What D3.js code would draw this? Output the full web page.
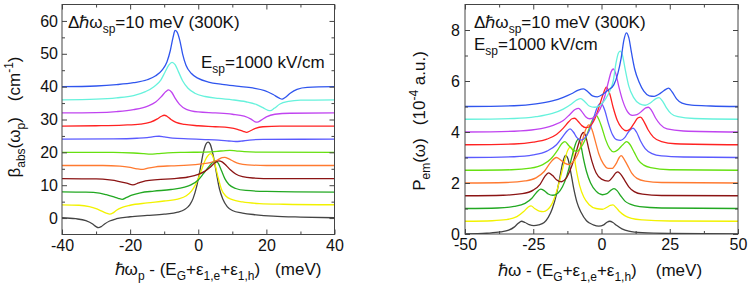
<!DOCTYPE html>
<html><head><meta charset="utf-8">
<script src="https://cdn.jsdelivr.net/npm/d3@7"></script>
<style>
body{margin:0;background:#fff;}
text{font-family:"Liberation Sans", Arial, Helvetica, sans-serif; fill:#111;}
</style></head><body>
<svg id="c" width="748" height="288"></svg>
<script>
// ---------- Left panel: absorption spectra (offset curves) ----------
const absC0 = [[-40,0.1],[-36,-0.2],[-33,-0.8],[-31,-1.8],[-30,-2.6],[-29.3,-2.9],[-28.5,-2.6],[-27.5,-1.8],[-26,-0.9],[-24,-0.2],[-20,0.4],[-15,0.8],[-10,1.2],[-6,1.8],[-4,2.6],[-2.5,4.0],[-1.5,6.0],[-0.5,9.5],[0.5,14.5],[1.5,20.0],[2.3,22.6],[2.9,23.1],[3.5,22.5],[4.3,19.5],[5.2,14.5],[6.2,9.0],[7.2,5.8],[8.5,3.5],[10,2.3],[13,1.5],[17,1.0],[22,0.6],[30,0.3],[40,0.1]];
const absC4 = [[-40,4.0],[-35,3.9],[-32,3.5],[-30,2.9],[-28.5,2.2],[-27,1.5],[-26,1.2],[-25,1.6],[-24,2.4],[-22.5,3.2],[-20,3.9],[-15,4.6],[-10,5.2],[-6,5.8],[-3.5,6.8],[-2,8.2],[-1,9.8],[0,12.0],[1,14.8],[2,17.5],[3,19.2],[3.6,19.6],[4.2,19.0],[5,16.0],[5.8,12.5],[6.8,8.8],[8,6.8],[10,5.6],[13,4.9],[18,4.4],[25,4.2],[40,4.05]];
const absC8 = [[-40,8.0],[-33,7.9],[-29,7.6],[-27,7.1],[-25,6.5],[-23.5,6.0],[-22.3,5.7],[-21,6.3],[-19.5,7.0],[-17,7.7],[-13,8.2],[-8,8.7],[-4,9.4],[-2,10.2],[0,11.6],[1.5,13.5],[3,15.5],[4.2,16.9],[5,17.3],[5.8,16.8],[6.8,14.5],[7.8,12.0],[9,10.2],[11,9.0],[14,8.4],[20,8.1],[40,7.9]];
const absC12 = [[-40,12.0],[-30,11.9],[-26,11.6],[-23.5,11.2],[-21,10.6],[-19.2,10.1],[-17.5,10.7],[-15.5,11.3],[-12,11.7],[-7,12.0],[-3,12.5],[0,13.3],[2,14.3],[3.5,15.5],[5,16.9],[6,17.4],[7,17.1],[8.2,16.0],[9.5,14.6],[11,13.4],[13,12.6],[16,12.2],[22,12.0],[40,12.0]];
const absC16 = [[-40,16.0],[-28,16.0],[-23,15.8],[-20,15.4],[-18,15.0],[-16.2,14.8],[-14.8,15.2],[-12.5,15.6],[-8,15.9],[-3,16.1],[1,16.5],[3.5,16.9],[5.5,17.6],[7,18.4],[7.8,18.5],[9,18.0],[10.5,17.2],[12,16.6],[14.5,16.2],[20,16.0],[40,16.0]];
const absC20 = [[-40,20.0],[-25,20.0],[-19,19.8],[-16,19.6],[-14,19.45],[-12,19.6],[-9,19.85],[-4,20.0],[2,20.1],[5.5,20.3],[8,20.55],[9.3,20.6],[11,20.45],[13.5,20.2],[18,20.05],[40,20.0]];
const absC24 = [[-40,24.0],[-25,24.1],[-18,24.3],[-15,24.5],[-12.5,24.85],[-11.5,24.9],[-10,24.7],[-7.5,24.35],[-3,24.1],[2,23.9],[6,23.7],[9,23.45],[11,23.3],[12.5,23.4],[15,23.75],[19,23.95],[40,24.0]];
const absC28 = [[-40,28.0],[-30,28.1],[-22,28.3],[-17,28.6],[-14,29.2],[-12,30.2],[-10.8,31.0],[-10,31.3],[-9.2,31.0],[-8,30.0],[-6.5,29.1],[-4,28.5],[0,28.1],[5,27.8],[9,27.5],[11.5,27.0],[13.2,26.4],[14.2,26.1],[15.2,26.5],[16.8,27.3],[19,27.8],[24,28.0],[40,28.0]];
const absC32 = [[-40,32.0],[-30,32.1],[-24,32.4],[-19,33.0],[-15,34.0],[-12.5,35.3],[-10.8,37.0],[-9.5,38.5],[-8.7,39.0],[-7.8,38.3],[-6.8,36.5],[-5.5,34.6],[-3.5,33.1],[0,32.3],[5,32.0],[10,31.6],[13.5,31.0],[15.5,30.1],[16.7,29.3],[17.3,29.2],[18.5,29.8],[20,30.8],[22.5,31.6],[27,31.9],[40,32.0]];
const absC36 = [[-40,36.0],[-30,36.2],[-24,36.6],[-19,37.3],[-15.5,38.5],[-13,40.0],[-11,42.0],[-9.8,44.3],[-8.6,46.6],[-7.7,47.4],[-6.8,46.7],[-5.8,44.5],[-4.6,41.8],[-3,39.5],[-1,38.0],[2,37.0],[6,36.4],[10,36.0],[14,35.4],[17,34.6],[19,33.6],[20.5,32.8],[21.2,32.7],[22.3,33.4],[24,34.7],[26.5,35.5],[30,35.9],[40,36.0]];
const absC40 = [[-40,40.0],[-30,40.2],[-24,40.6],[-19,41.2],[-15,42.1],[-12.5,43.3],[-10.5,45.2],[-9.2,47.5],[-8.2,51.0],[-7.4,55.0],[-6.8,57.1],[-6.2,56.6],[-5.4,54.0],[-4.6,50.0],[-3.6,46.5],[-2,44.0],[0,42.5],[3,41.4],[7,40.7],[12,40.1],[16,39.6],[19.5,38.8],[22,37.6],[23.8,36.5],[24.6,36.2],[25.5,36.7],[27,38.0],[29,39.2],[32,39.8],[40,40.0]];

// ---------- Right panel: emission spectra (offset curves) ----------
const emC0 = [[-50,0.0],[-42,0.03],[-37,0.08],[-34,0.15],[-32,0.27],[-30.5,0.42],[-29.3,0.5],[-28,0.45],[-26.5,0.37],[-24.8,0.33],[-23,0.36],[-21,0.45],[-19.5,0.65],[-18,1.0],[-16.5,1.55],[-15.3,2.2],[-14.2,2.8],[-13.2,3.08],[-12.3,2.95],[-11.3,2.45],[-10.2,1.8],[-9,1.25],[-7.5,0.85],[-5.5,0.52],[-3,0.36],[-1,0.31],[0.8,0.36],[2,0.46],[3,0.5],[4.2,0.45],[5.5,0.34],[7.5,0.2],[10,0.11],[15,0.05],[25,0.02],[50,0.0]];
const emC05 = [[-50,0.5],[-40,0.52],[-35,0.56],[-31,0.68],[-28.5,0.88],[-26.8,1.06],[-25.8,1.1],[-24.5,1.0],[-22.8,0.9],[-21.3,0.88],[-19.8,0.95],[-18.3,1.15],[-16.8,1.55],[-15.3,2.1],[-13.8,2.75],[-12.5,3.25],[-11.3,3.42],[-10.3,3.2],[-9.2,2.5],[-8,1.9],[-6.5,1.45],[-4.5,1.15],[-2,1.0],[0.3,0.97],[2,1.05],[3.2,1.12],[4.2,1.14],[5.3,1.04],[6.8,0.86],[8.5,0.72],[11,0.61],[15,0.55],[25,0.51],[50,0.5]];
const emC10 = [[-50,1.0],[-38,1.02],[-32,1.08],[-28,1.2],[-25.5,1.4],[-23.8,1.63],[-22.3,1.76],[-21,1.7],[-19.5,1.57],[-17.8,1.52],[-16,1.6],[-14.3,1.85],[-12.8,2.25],[-11.5,2.75],[-10.3,3.25],[-9.2,3.62],[-8.5,3.72],[-7.7,3.55],[-6.7,3.0],[-5.5,2.45],[-4,2.0],[-2,1.68],[0.3,1.54],[2,1.58],[3.5,1.72],[4.6,1.78],[5.7,1.7],[7,1.5],[8.5,1.3],[10.5,1.17],[14,1.07],[22,1.02],[50,1.0]];
const emC15 = [[-50,1.5],[-36,1.52],[-29,1.58],[-25,1.72],[-22.5,1.95],[-20.8,2.25],[-19.4,2.4],[-18,2.3],[-16.5,2.13],[-14.6,2.05],[-13,2.18],[-11.5,2.5],[-10,2.95],[-8.5,3.5],[-7.3,3.9],[-6.5,3.98],[-5.7,3.8],[-4.7,3.35],[-3.5,2.85],[-2,2.4],[0,2.15],[2.5,2.07],[4,2.22],[5.3,2.4],[6,2.44],[7,2.35],[8.5,2.1],[10,1.85],[12,1.66],[15,1.56],[22,1.51],[50,1.5]];
const emC20 = [[-50,2.0],[-35,2.02],[-28,2.08],[-24,2.2],[-21,2.45],[-18.7,2.8],[-16.5,3.0],[-15,2.9],[-13.5,2.78],[-11.8,2.72],[-10.3,2.85],[-8.8,3.1],[-7.3,3.55],[-5.8,4.1],[-4.6,4.28],[-3.5,4.1],[-2.3,3.65],[-1,3.15],[0.7,2.75],[2.5,2.57],[3.8,2.57],[5.3,2.75],[6.5,3.0],[7.2,3.07],[8.2,2.95],[9.5,2.7],[11,2.4],[13,2.18],[16,2.07],[22,2.02],[50,2.0]];
const emC25 = [[-50,2.5],[-33,2.52],[-26,2.58],[-21.5,2.72],[-18.5,2.95],[-16,3.3],[-14.5,3.55],[-13.4,3.62],[-12,3.47],[-10.5,3.3],[-9,3.24],[-7.5,3.4],[-6,3.7],[-4.5,4.15],[-3.2,4.5],[-2.1,4.67],[-1,4.5],[0.2,4.15],[1.5,3.7],[3,3.35],[4.5,3.22],[6,3.3],[7.8,3.5],[9.2,3.62],[10.5,3.5],[12,3.2],[13.5,2.9],[15.5,2.7],[18,2.6],[25,2.52],[50,2.5]];
const emC30 = [[-50,3.0],[-32,3.03],[-25,3.1],[-20,3.25],[-16.5,3.5],[-14,3.85],[-12.5,4.05],[-11.5,4.12],[-10.3,4.0],[-9,3.78],[-7.5,3.68],[-6,3.78],[-4.5,4.05],[-3,4.5],[-1.8,4.9],[-0.2,5.13],[1.2,4.85],[2.5,4.35],[4,3.9],[5.5,3.7],[7,3.67],[8.5,3.78],[10,4.02],[11.5,4.15],[12.8,4.0],[14.3,3.65],[16,3.35],[18.5,3.15],[22,3.06],[30,3.02],[50,3.0]];
const emC35 = [[-50,3.5],[-32,3.53],[-25,3.6],[-20,3.72],[-16.5,3.9],[-14,4.15],[-12,4.4],[-10.8,4.52],[-9.8,4.54],[-8.6,4.42],[-7.2,4.25],[-5.6,4.17],[-4,4.25],[-2.5,4.5],[-1,4.95],[0.5,5.45],[1.8,5.76],[3,5.5],[4.3,4.95],[5.8,4.45],[7.5,4.15],[9,4.05],[10.5,4.12],[12,4.35],[13.3,4.55],[14.3,4.58],[15.5,4.42],[17,4.1],[19,3.8],[22,3.62],[27,3.54],[50,3.5]];
const emC40 = [[-50,4.0],[-32,4.03],[-24,4.1],[-18,4.25],[-14,4.45],[-11.5,4.7],[-9.7,4.88],[-8.4,4.93],[-7.2,4.8],[-5.8,4.6],[-4.3,4.52],[-2.5,4.6],[-0.5,4.9],[1.2,5.4],[2.6,6.0],[3.5,6.35],[4.3,6.47],[5.2,6.3],[6.3,5.8],[7.7,5.25],[9.5,4.8],[11.3,4.65],[13,4.68],[14.8,4.82],[16.2,4.95],[17.2,4.97],[18.3,4.85],[19.8,4.55],[21.5,4.3],[24,4.12],[30,4.04],[50,4.0]];
const emC45 = [[-50,4.5],[-32,4.53],[-24,4.6],[-18,4.73],[-14,4.9],[-11,5.1],[-9,5.26],[-7.6,5.31],[-6.2,5.2],[-4.5,5.02],[-2.5,4.97],[-0.5,5.05],[1.5,5.3],[3,5.6],[4.3,6.0],[5.3,6.7],[6.2,7.1],[6.9,7.17],[7.7,7.0],[8.7,6.45],[10,5.8],[11.8,5.35],[14,5.1],[16,5.05],[18,5.15],[19.8,5.3],[21.1,5.35],[22.3,5.22],[23.8,4.95],[25.5,4.72],[28,4.6],[34,4.53],[50,4.5]];
const emC50 = [[-50,5.0],[-32,5.03],[-24,5.1],[-18,5.22],[-14,5.36],[-11,5.5],[-8.5,5.64],[-6.6,5.69],[-5,5.58],[-3.3,5.42],[-1.5,5.38],[0.5,5.48],[2.5,5.65],[4.5,5.85],[6,6.3],[7.2,6.9],[8.2,7.6],[9.1,7.89],[10,7.7],[11,7.1],[12.2,6.45],[13.8,5.95],[15.5,5.6],[17.5,5.42],[19.3,5.4],[21,5.48],[22.8,5.62],[24.6,5.72],[26,5.55],[27.5,5.3],[29.5,5.13],[33,5.05],[40,5.02],[50,5.0]];

const absSeries = [absC0, absC4, absC8, absC12, absC16, absC20, absC24, absC28, absC32, absC36, absC40];
const emSeries  = [emC0, emC05, emC10, emC15, emC20, emC25, emC30, emC35, emC40, emC45, emC50];
const palette = ["#444444","#f2f200","#22a822","#8b1414","#ff7a30","#66e010","#5a5aff","#ff2222","#c044f0","#66f2dc","#2f55ee"];

// tick values
const absXMajor = [-40,-20,0,20,40], absXMinor = [-30,-10,10,30];
const absYMajor = [0,10,20,30,40,50,60], absYMinor = [5,15,25,35,45,55];
const emXMajor = [-50,-25,0,25,50], emXMinor = [-37.5,-12.5,12.5,37.5];
const emYMajor = [0,2,4,6,8], emYMinor = [1,3,5,7];

const svg = d3.select("#c");

function rich(parent, x, y, segs, size, small, anchor, transform) {
  const t = parent.append("text").attr("x", x).attr("y", y)
    .attr("font-size", size).attr("text-anchor", anchor || "start");
  if (transform) t.attr("transform", transform);
  let shift = 0;
  segs.forEach(s => {
    const target = s.sub ? 0.3 * size : s.sup ? -0.42 * size : 0;
    const sp = t.append("tspan").text(s.t).attr("dy", target - shift);
    if (s.dx) sp.attr("dx", s.dx);
    if (s.sub || s.sup) sp.attr("font-size", small);
    shift = target;
  });
  return t;
}

function panel(cfg) {
  const g = svg.append("g");
  const x = d3.scaleLinear(cfg.xd, cfg.xr);
  const y = d3.scaleLinear(cfg.yd, cfg.yr);
  const line = d3.line().x(d => x(d[0])).y(d => y(d[1])).curve(d3.curveMonotoneX);
  const clipId = "clip" + cfg.id;
  svg.append("clipPath").attr("id", clipId).append("rect")
    .attr("x", cfg.xr[0]).attr("y", cfg.yr[1]).attr("width", cfg.xr[1]-cfg.xr[0]).attr("height", cfg.yr[0]-cfg.yr[1]);
  const lines = g.append("g").attr("clip-path", `url(#${clipId})`);
  cfg.series.forEach((s, i) => {
    lines.append("path").attr("d", line(s)).attr("fill", "none")
      .attr("stroke", palette[i]).attr("stroke-width", 1.3);
  });
  const fmt = d => String(d);
  const styleAx = a => { a.select(".domain").remove(); a.selectAll("line").attr("stroke", "#444"); a.selectAll("text").attr("font-size", 16).attr("fill", "#111").attr("font-family", "Liberation Sans, Arial, sans-serif"); };
  const by = cfg.yr[0], ty = cfg.yr[1], lx = cfg.xr[0], rx = cfg.xr[1];
  g.append("g").attr("transform", `translate(0,${by})`).call(d3.axisBottom(x).tickValues(cfg.xMaj).tickSize(-5).tickPadding(5).tickFormat(fmt)).call(styleAx);
  g.append("g").attr("transform", `translate(0,${by})`).call(d3.axisBottom(x).tickValues(cfg.xMin).tickSize(-3).tickFormat("")).call(styleAx);
  g.append("g").attr("transform", `translate(0,${ty})`).call(d3.axisTop(x).tickValues(cfg.xMaj).tickSize(-5).tickFormat("")).call(styleAx);
  g.append("g").attr("transform", `translate(0,${ty})`).call(d3.axisTop(x).tickValues(cfg.xMin).tickSize(-3).tickFormat("")).call(styleAx);
  g.append("g").attr("transform", `translate(${lx},0)`).call(d3.axisLeft(y).tickValues(cfg.yMaj).tickSize(-5).tickPadding(cfg.ypad).tickFormat(fmt)).call(styleAx);
  g.append("g").attr("transform", `translate(${lx},0)`).call(d3.axisLeft(y).tickValues(cfg.yMin).tickSize(-3).tickFormat("")).call(styleAx);
  g.append("g").attr("transform", `translate(${rx},0)`).call(d3.axisRight(y).tickValues(cfg.yMaj).tickSize(-5).tickFormat("")).call(styleAx);
  g.append("g").attr("transform", `translate(${rx},0)`).call(d3.axisRight(y).tickValues(cfg.yMin).tickSize(-3).tickFormat("")).call(styleAx);
  g.append("rect").attr("x", lx).attr("y", ty).attr("width", rx-lx).attr("height", by-ty)
    .attr("fill", "none").attr("stroke", "#444").attr("stroke-width", 1);
  return g;
}

const gL = panel({id:"L", xd:[-40,40], xr:[62,334.5], yd:[-5,65], yr:[234.5,4.5], series:absSeries,
  xMaj:absXMajor, xMin:absXMinor, yMaj:absYMajor, yMin:absYMinor, ypad:4});
const gR = panel({id:"R", xd:[-50,50], xr:[465,738], yd:[0,9], yr:[234,4.5], series:emSeries,
  xMaj:emXMajor, xMin:emXMinor, yMaj:emYMajor, yMin:emYMinor, ypad:5});

// annotations
rich(svg, 68, 28, [{t:"\u0394\u210F\u03C9"},{t:"sp",sub:true},{t:"=10 meV (300K)"}], 17, 12);
rich(svg, 201, 68, [{t:"E"},{t:"sp",sub:true},{t:"=1000 kV/cm"}], 17, 12);
rich(svg, 474, 28, [{t:"\u0394\u210F\u03C9"},{t:"sp",sub:true},{t:"=10 meV (300K)"}], 17, 12);
rich(svg, 474, 50, [{t:"E"},{t:"sp",sub:true},{t:"=1000 kV/cm"}], 17, 12);

// axis titles
rich(svg, 218, 275, [{t:"\u210F\u03C9"},{t:"p",sub:true},{t:" - (E"},{t:"G",sub:true},{t:"+\u03B5"},{t:"1,e",sub:true},{t:"+\u03B5"},{t:"1,h",sub:true},{t:")"},{t:"(meV)",dx:15}], 17, 12, "middle");
rich(svg, 600, 276, [{t:"\u210F\u03C9 - (E"},{t:"G",sub:true},{t:"+\u03B5"},{t:"1,e",sub:true},{t:"+\u03B5"},{t:"1,h",sub:true},{t:")"},{t:"(meV)",dx:19}], 17, 12, "middle");
rich(svg, 0, 0, [{t:"\u03B2"},{t:"abs",sub:true},{t:"(\u03C9"},{t:"p",sub:true},{t:")"},{t:"(cm",dx:16},{t:"-1",sup:true},{t:")"}], 17, 12, "middle", "translate(20,117) rotate(-90)");
rich(svg, 0, 0, [{t:"P"},{t:"em",sub:true},{t:"(\u03C9)"},{t:"(10",dx:13},{t:"-4",sup:true},{t:" a.u.)"}], 17, 12, "middle", "translate(425,121) rotate(-90)");
</script>
</body></html>
